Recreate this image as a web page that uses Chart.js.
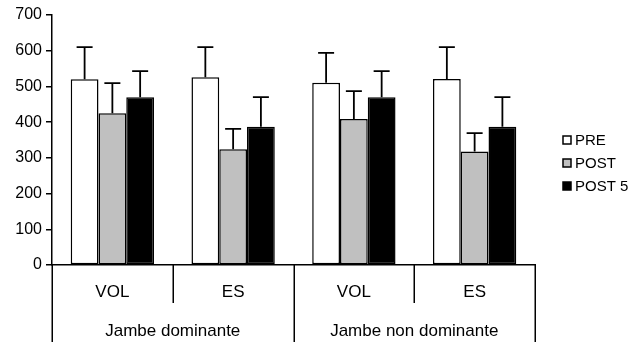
<!DOCTYPE html>
<html>
<head>
<meta charset="utf-8">
<script src="https://cdn.jsdelivr.net/npm/chart.js@4/dist/chart.umd.min.js"></script>
<style>
  html, body { margin: 0; padding: 0; background: #fff; }
  #wrap { width: 634px; height: 342px; }
</style>
</head>
<body>
<div id="wrap"><canvas id="chart" width="634" height="342"></canvas></div>
<script>
const categories = ['VOL', 'ES', 'VOL', 'ES'];
const groups = ['Jambe dominante', 'Jambe non dominante'];
const seriesNames = ['PRE', 'POST', 'POST 5'];
const preValues = [520, 526, 510, 521];
const postValues = [425, 324, 409, 318];
const post5Values = [470, 387, 470, 387];
const preErrors = [90, 84, 84, 89];
const postErrors = [84, 57, 78, 51];
const post5Errors = [73, 83, 73, 83];
const yMax = 700;
const yStep = 100;

const FONT = "'Liberation Sans', Arial, sans-serif";
const fills = ['#ffffff', '#c0c0c0', '#000000'];

// upward error whiskers with a short cap
const errorBars = {
    id: 'errorBars',
    afterDatasetsDraw(chart) {
        const ctx = chart.ctx;
        const y = chart.scales.y;
        ctx.save();
        ctx.strokeStyle = '#000';
        ctx.lineWidth = 1.8;
        chart.data.datasets.forEach((ds, i) => {
            const meta = chart.getDatasetMeta(i);
            meta.data.forEach((bar, j) => {
                const top = y.getPixelForValue(ds.data[j] + ds.errors[j]);
                ctx.beginPath();
                ctx.moveTo(bar.x, bar.y);
                ctx.lineTo(bar.x, top);
                ctx.moveTo(bar.x - 8, top);
                ctx.lineTo(bar.x + 8, top);
                ctx.stroke();
            });
        });
        ctx.restore();
    }
};

// two-level category axis: VOL/ES under each bar group, leg label below
const groupedAxis = {
    id: 'groupedAxis',
    afterDraw(chart) {
        const ctx = chart.ctx;
        const x = chart.scales.x;
        const bottom = chart.chartArea.bottom;
        const w = (x.right - x.left) / categories.length;
        ctx.save();
        ctx.strokeStyle = '#000';
        ctx.lineWidth = 1.5;
        for (let i = 0; i <= categories.length; i++) {
            const px = Math.round(x.left + i * w) + 0.25;
            ctx.beginPath();
            ctx.moveTo(px, bottom);
            ctx.lineTo(px, i % 2 === 0 ? chart.height : bottom + 38);
            ctx.stroke();
        }
        ctx.fillStyle = '#000';
        ctx.textAlign = 'center';
        ctx.textBaseline = 'middle';
        ctx.font = '17px ' + FONT;
        categories.forEach((c, i) => {
            ctx.fillText(c, x.getPixelForValue(i), bottom + 27);
        });
        groups.forEach((g, i) => {
            ctx.fillText(g, x.left + (2 * i + 1) * w, bottom + 66);
        });
        ctx.restore();
    }
};

// legend on the right, small outlined squares
const sideLegend = {
    id: 'sideLegend',
    afterDraw(chart) {
        const ctx = chart.ctx;
        ctx.save();
        ctx.font = '15px ' + FONT;
        ctx.textBaseline = 'middle';
        ctx.textAlign = 'left';
        chart.data.datasets.forEach((ds, i) => {
            const cy = 140 + i * 23;
            ctx.fillStyle = ds.backgroundColor;
            ctx.fillRect(563, cy - 4, 8, 8);
            ctx.strokeStyle = '#000';
            ctx.lineWidth = 1.5;
            ctx.strokeRect(563, cy - 4, 8, 8);
            ctx.fillStyle = '#000';
            ctx.fillText(ds.label, 575, cy + 1);
        });
        ctx.restore();
    }
};

const seriesValues = [preValues, postValues, post5Values];
const seriesErrors = [preErrors, postErrors, post5Errors];

new Chart(document.getElementById('chart'), {
    type: 'bar',
    data: {
        labels: categories,
        datasets: seriesNames.map((name, i) => ({
            label: name,
            data: seriesValues[i],
            errors: seriesErrors[i],
            backgroundColor: fills[i],
            borderColor: '#000',
            borderWidth: 1.5,
            borderSkipped: false,
            categoryPercentage: 0.69,
            barPercentage: 1.0
        }))
    },
    options: {
        responsive: false,
        animation: false,
        layout: { padding: { top: 15, right: 99, left: 0, bottom: 0 } },
        plugins: {
            legend: { display: false },
            tooltip: { enabled: false }
        },
        scales: {
            x: {
                ticks: { display: false },
                grid: { display: false },
                border: { color: '#000', width: 1.5 },
                afterFit(scale) { scale.height = 77; }
            },
            y: {
                min: 0,
                max: yMax,
                ticks: {
                    stepSize: yStep,
                    color: '#000',
                    padding: 4,
                    font: { family: FONT, size: 16 }
                },
                grid: {
                    drawOnChartArea: false,
                    drawTicks: true,
                    tickLength: 6,
                    color: '#000',
                    lineWidth: 1.5
                },
                border: { color: '#000', width: 1.5 },
                afterFit(scale) { scale.width = 52; }
            }
        }
    },
    plugins: [errorBars, groupedAxis, sideLegend]
});
</script>
</body>
</html>
